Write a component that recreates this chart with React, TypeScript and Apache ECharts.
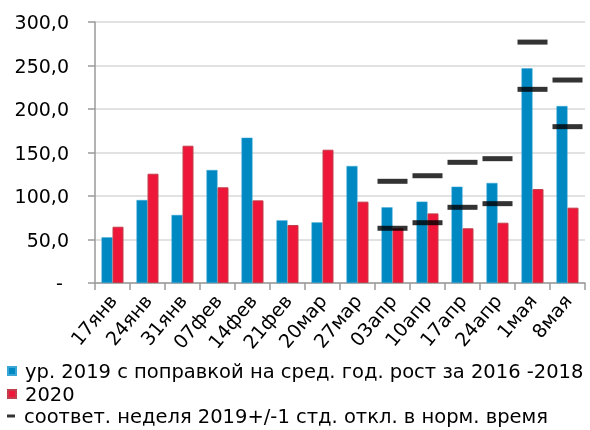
import React, { useEffect, useRef } from "react";
import * as echarts from "echarts";

const categories = ["17янв", "24янв", "31янв", "07фев", "14фев", "21фев", "20мар", "27мар", "03апр", "10апр", "17апр", "24апр", "1мая", "8мая"];
const adj2019 = [52.5, 95.4, 78.2, 129.9, 167, 72, 69.7, 134.5, 87, 93.5, 110.7, 115, 246.7, 203.4];
const y2020 = [64.7, 125.6, 157.8, 110, 95, 66.7, 153.2, 93.5, 62.9, 80, 62.9, 69.3, 108, 86.6];
const upperBand = [null, null, null, null, null, null, null, null, 116.9, 123.3, 138.7, 142.9, 276.9, 233.3];
const lowerBand = [null, null, null, null, null, null, null, null, 62.9, 69.3, 87, 91.2, 222.6, 179.7];

const nameAdj = "ур. 2019 с поправкой на сред. год. рост за 2016 -2018";
const name2020 = "2020";
const nameBand = "соответ. неделя 2019+/-1 стд. откл. в норм. время";

const FONT = "DejaVu Sans";

export default function App() {
  const ref = useRef<HTMLDivElement>(null);
  useEffect(() => {
    if (!ref.current) return;
    const chart = echarts.init(ref.current, undefined, { renderer: "svg" });
    const legendBase = {
      orient: "horizontal",
      left: 2,
      itemWidth: 8,
      itemHeight: 8,
      symbolKeepAspect: true,
      textStyle: { fontSize: 19.5, color: "#000", fontFamily: FONT, padding: [0, 0, 0, 4] },
    };
    chart.setOption({
      animation: false,
      textStyle: { fontFamily: FONT },
      grid: { left: 95, right: 5, top: 22, bottom: 147, containLabel: false },
      legend: [
        { ...legendBase, top: 356, data: [{ name: nameAdj, icon: "rect" }] },
        { ...legendBase, top: 379, data: [{ name: name2020, icon: "rect" }] },
        { ...legendBase, top: 401, data: [{ name: nameBand, icon: "path://M0,0h8v3h-8z" }] },
      ],
      xAxis: {
        type: "category",
        data: categories,
        axisLine: { lineStyle: { color: "#9a9a9a", width: 1.5 } },
        axisTick: { show: true, length: 7, lineStyle: { color: "#9a9a9a", width: 1.5 } },
        axisLabel: { interval: 0, rotate: 50, fontSize: 19, color: "#000", fontFamily: FONT, margin: 14 },
      },
      yAxis: {
        type: "value",
        min: 0,
        max: 300,
        interval: 50,
        axisLine: { show: true, lineStyle: { color: "#9a9a9a", width: 1.5 } },
        axisTick: { show: true, length: 7, lineStyle: { color: "#9a9a9a", width: 1.5 } },
        splitLine: { lineStyle: { color: "#d9d9d9", width: 1.5 } },
        axisLabel: {
          fontSize: 19,
          color: "#000",
          fontFamily: FONT,
          margin: 26,
          formatter: (v: number) => (v === 0 ? "- " : v.toFixed(1).replace(".", ",")),
        },
      },
      series: [
        {
          name: nameAdj,
          type: "bar",
          data: adj2019,
          barWidth: 11,
          barGap: "0%",
          itemStyle: { color: "#0088C2", borderColor: "#3AA6D6", borderWidth: 0.5 },
        },
        {
          name: name2020,
          type: "bar",
          data: y2020,
          barWidth: 11,
          barGap: "0%",
          itemStyle: { color: "#EE1639", borderColor: "#C0404D", borderWidth: 1 },
        },
        {
          name: nameBand,
          type: "scatter",
          data: upperBand,
          symbol: "rect",
          symbolSize: [30, 5],
          itemStyle: { color: "#000" },
          z: 5,
        },
        {
          name: nameBand,
          type: "scatter",
          data: lowerBand,
          symbol: "rect",
          symbolSize: [30, 5],
          itemStyle: { color: "#000" },
          z: 5,
        },
      ],
    });
    return () => chart.dispose();
  }, []);
  return <div ref={ref} style={{ position: "fixed", left: 0, top: 0, width: 590, height: 430 }} />;
}
